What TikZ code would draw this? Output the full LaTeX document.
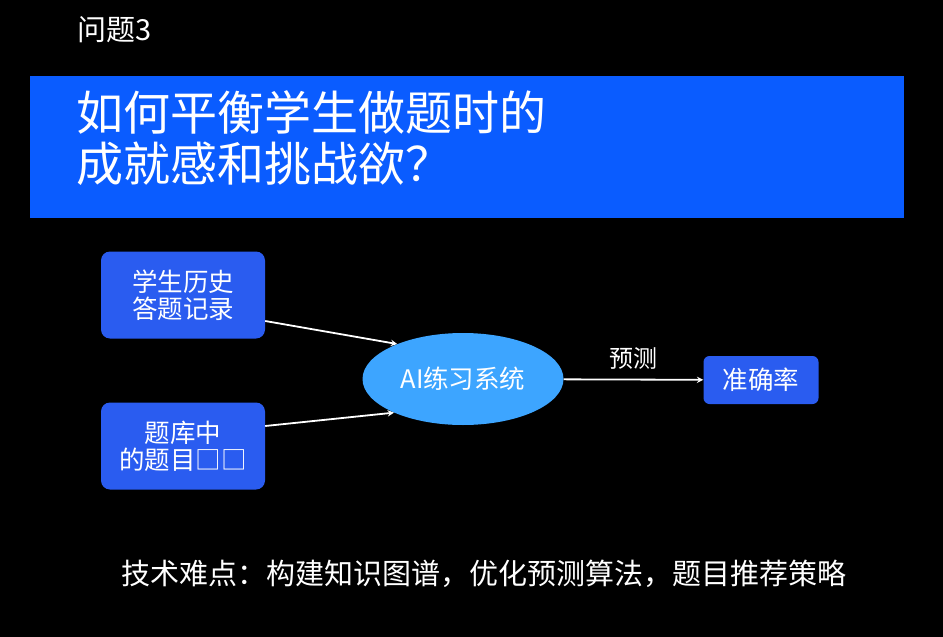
\documentclass[tikz,border=0pt]{standalone}
\usepackage{fontspec}
\setmainfont{Noto Sans CJK SC}
\usepackage{tikz}
\usetikzlibrary{shapes.geometric, positioning, arrows}
\definecolor{banner}{HTML}{0A5CFF}
\definecolor{boxblue}{HTML}{2A5CF0}
\definecolor{sysblue}{HTML}{3DA5FF}

\begin{document}
\begin{tikzpicture}[x=1pt,y=-1pt,
    every node/.style={text=white},
    databox/.style={rectangle,rounded corners=9pt,fill=boxblue,minimum width=164pt,minimum height=87pt,align=center,font=\fontsize{25.5}{27}\selectfont},
    sysnode/.style={ellipse,fill=sysblue,minimum width=201pt,minimum height=92pt,font=\fontsize{25.5}{28}\selectfont},
    resbox/.style={rectangle,rounded corners=6pt,fill=boxblue,minimum width=115pt,minimum height=48pt,font=\fontsize{25.5}{28}\selectfont}]
\fill[black] (0,0) rectangle (943,637);
\useasboundingbox (0,0) rectangle (943,637);
\node[anchor=west,font=\fontsize{29}{32}\selectfont] (q) at (74,30) {问题3};
\fill[banner] (30,76) rectangle (904,218);
\node[anchor=north west,align=left,inner sep=0pt,font=\fontsize{47}{51}\selectfont] (title) at (76,90) {如何平衡学生做题时的\\成就感和挑战欲？};
\node[databox] (hist) at (183,295) {学生历史\\答题记录};
\node[databox] (bank) at (183,446) {题库中\\的题目□□};
\node[sysnode] (ai) at (463,379) {AI练习系统};
\node[resbox] (acc) at (761,380) {准确率};
\path[-stealth, white, line width=1.8pt]
(hist.east |- 0,321) edge (ai.152)
(bank.east |- 0,426) edge (ai.206)
(ai) edge node [above=6pt,font=\fontsize{24}{26}\selectfont] {预测} (acc);
\node[font=\fontsize{29}{32}\selectfont] (diff) at (484,574) {技术难点：构建知识图谱，优化预测算法，题目推荐策略};
\end{tikzpicture}
\end{document}
